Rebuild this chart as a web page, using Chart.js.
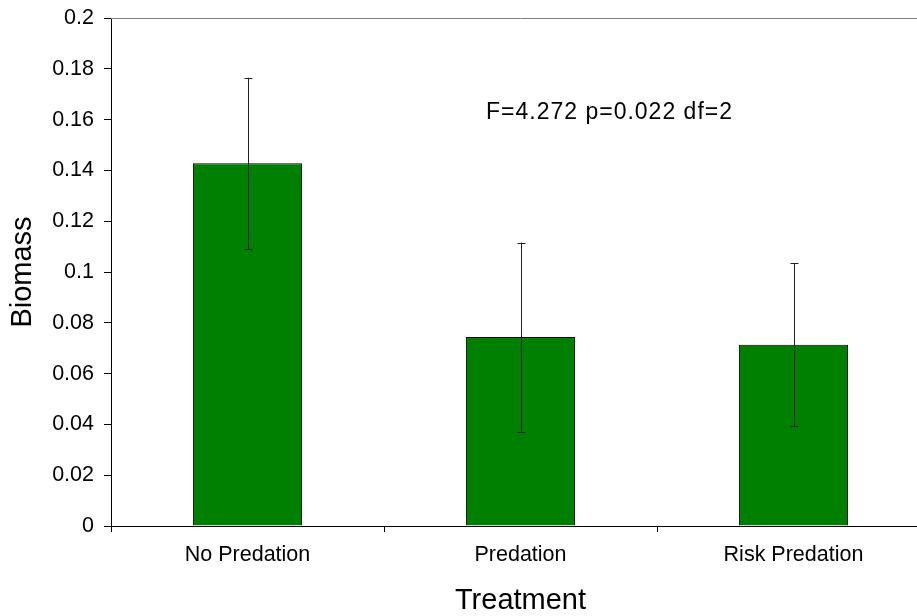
<!DOCTYPE html>
<html>
<head>
<meta charset="utf-8">
<script src="https://cdn.jsdelivr.net/npm/chart.js@4.4.1/dist/chart.umd.min.js"></script>
<style>
  html, body { margin: 0; padding: 0; background: #fff; overflow: hidden; }
  #wrap { width: 917px; height: 616px; overflow: hidden; }
</style>
</head>
<body>
<div id="wrap"><canvas id="chart" width="930" height="616"></canvas></div>
<script>
// Data
const categories = ['No Predation', 'Predation', 'Risk Predation'];
const biomass = [0.1428, 0.0744, 0.0714];
const errors = [0.0337, 0.0372, 0.0321];
const yTicks = [0, 0.02, 0.04, 0.06, 0.08, 0.1, 0.12, 0.14, 0.16, 0.18, 0.2];
const statsText = 'F=4.272 p=0.022 df=2';

const FONT = '"Liberation Sans", Arial, sans-serif';

// Error bars + top border + stats annotation
const extras = {
    id: 'extras',
    afterDatasetsDraw(chart) {
        const ctx = chart.ctx;
        const y = chart.scales.y;
        const meta = chart.getDatasetMeta(0);
        ctx.save();
        ctx.strokeStyle = '#222';
        ctx.lineWidth = 1;
        meta.data.forEach((bar, i) => {
            const x = Math.round(bar.x) + 0.5;
            const top = y.getPixelForValue(biomass[i] + errors[i]);
            const bot = y.getPixelForValue(biomass[i] - errors[i]);
            ctx.beginPath();
            ctx.moveTo(x, top); ctx.lineTo(x, bot);
            ctx.moveTo(x - 4, Math.round(top) + 0.5); ctx.lineTo(x + 4, Math.round(top) + 0.5);
            ctx.moveTo(x - 4, Math.round(bot) + 0.5); ctx.lineTo(x + 4, Math.round(bot) + 0.5);
            ctx.stroke();
        });
        // top border of plot area
        const a = chart.chartArea;
        ctx.strokeStyle = '#808080';
        ctx.beginPath();
        ctx.moveTo(a.left, Math.round(a.top) + 0.5);
        ctx.lineTo(a.right, Math.round(a.top) + 0.5);
        ctx.stroke();
        // stats annotation
        ctx.fillStyle = '#000';
        ctx.font = '23px ' + FONT;
        ctx.letterSpacing = '1px';
        ctx.textAlign = 'left';
        ctx.textBaseline = 'alphabetic';
        ctx.fillText(statsText, 486, 119);
        ctx.restore();
    }
};

new Chart(document.getElementById('chart'), {
    type: 'bar',
    data: {
        labels: categories,
        datasets: [{
            data: biomass,
            backgroundColor: '#008000',
            borderColor: '#000',
            borderWidth: 1,
            barPercentage: 0.4,
            categoryPercentage: 1
        }]
    },
    options: {
        responsive: false,
        animation: false,
        layout: { padding: { top: 18, right: 0, left: 0, bottom: 0 } },
        plugins: { legend: { display: false }, tooltip: { enabled: false } },
        scales: {
            x: {
                grid: { offset: true, drawOnChartArea: false, drawTicks: true, tickLength: 6, color: '#000' },
                border: { color: '#000', width: 1 },
                ticks: { color: '#000', font: { family: FONT, size: 21.5 }, padding: 10, maxRotation: 0 },
                title: { display: true, text: 'Treatment', color: '#000', font: { family: FONT, size: 29, lineHeight: 1 }, padding: { top: 0, bottom: 1 } },
                afterFit(scale) { scale.height = 90; }
            },
            y: {
                min: 0,
                max: 0.2,
                afterBuildTicks(scale) { scale.ticks = yTicks.map(v => ({ value: v })); },
                grid: { drawOnChartArea: false, drawTicks: true, tickLength: 7, color: '#000' },
                border: { color: '#000', width: 1 },
                ticks: {
                    color: '#000',
                    font: { family: FONT, size: 21.5, lineHeight: 0.6 },
                    padding: 10,
                    callback: v => String(Number(v.toFixed(2)))
                },
                title: { display: true, text: 'Biomass', color: '#000', font: { family: FONT, size: 29, lineHeight: 1 }, padding: { top: 8, bottom: 0 } },
                afterFit(scale) { scale.width = 111; }
            }
        }
    },
    plugins: [extras]
});
</script>
</body>
</html>
